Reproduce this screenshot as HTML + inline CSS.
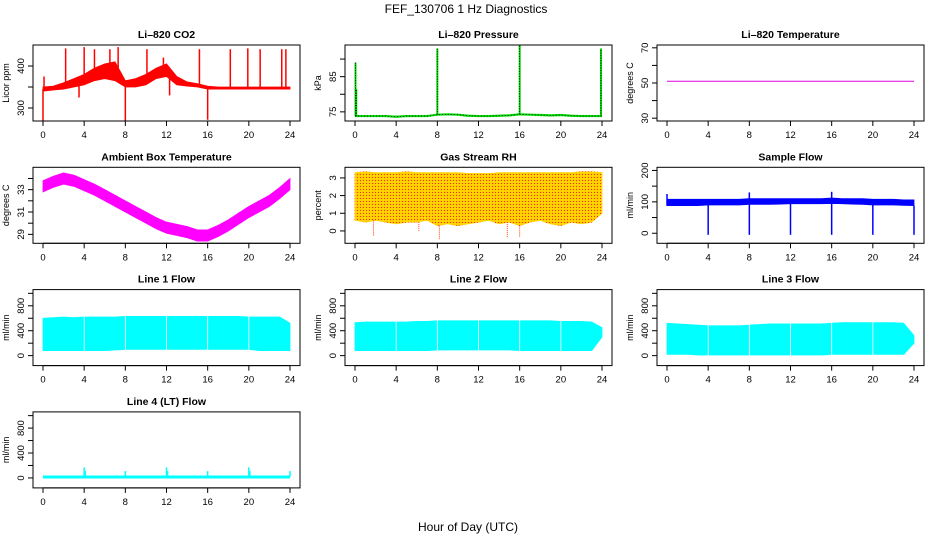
<!DOCTYPE html>
<html><head><meta charset="utf-8">
<style>
body{margin:0;background:#fff;}
svg{display:block;font-family:"Liberation Sans",sans-serif;}
</style></head>
<body>
<svg id="chart" width="936" height="540" viewBox="0 0 936 540">
<rect x="0" y="0" width="936" height="540" fill="#fff"/>
<defs>
<pattern id="rhpat" width="3" height="3" patternUnits="userSpaceOnUse">
<rect width="3" height="3" fill="#ffcc00"/><rect x="0" y="0" width="1" height="1" fill="#ff3000"/><rect x="1.5" y="1.5" width="0.8" height="0.8" fill="#ffff00"/>
</pattern>
</defs>
<text x="466" y="13" font-size="12" text-anchor="middle">FEF_130706  1 Hz Diagnostics</text>
<text x="468" y="531" font-size="12" text-anchor="middle">Hour of Day (UTC)</text>
<g id="panels"></g>
</svg>
<script>
// ---- shared axis data ----
const xTicks = [0,4,8,12,16,20,24];
const hours = [0,1,2,3,4,5,6,7,8,9,10,11,12,13,14,15,16,17,18,19,20,21,22,23,24];

// CO2
const co2Low  = [340,343,345,350,355,365,370,365,350,350,355,370,375,355,352,350,345,345,345,345,345,345,345,345,345];
const co2High = [350,352,360,370,380,395,405,410,365,370,380,395,405,375,362,358,352,350,350,350,350,350,350,350,350];
const co2Spikes = [[2.2,442],[4.0,445],[5.0,440],[6.5,440],[7.3,445],[10.1,440],[11.7,420],[15.2,440],[18.2,440],[19.9,442],[21.1,440],[23.2,440],[23.6,440],[0,270],[8.0,268],[16.0,272],[0.1,375],[3.5,325],[12.3,330]];
const co2Ticks = [300,350,400];
const co2Labels = ["300","","400"];

// Pressure
const presBase = [73.8,73.8,73.8,73.8,73.6,73.8,73.8,73.8,74.2,74.3,74.2,73.9,73.8,73.8,73.9,74.0,74.3,74.2,74.1,74.0,74.1,73.9,73.8,73.8,73.8];
const presSpikes = [[0.05,89],[0.12,81.5],[8.0,93],[16.0,94],[23.9,93]];
const presTicks = [75,80,85,90];
const presLabels = ["75","","85",""];

// Li-820 temperature
const tempVals = [51,51,51,51,51,51,51,51,51,51,51,51,51,51,51,51,51,51,51,51,51,51,51,51,51];
const tempTicks = [30,40,50,60,70];
const tempLabels = ["30","","50","","70"];

// Ambient box temperature
const ambLow  = [32.8,33.2,33.5,33.3,32.9,32.5,32.0,31.5,31.0,30.5,30.0,29.5,29.1,28.9,28.7,28.4,28.4,28.8,29.3,29.9,30.5,31.0,31.5,32.2,33.0];
const ambHigh = [33.8,34.2,34.5,34.3,33.9,33.5,33.0,32.5,32.0,31.5,31.0,30.5,30.1,29.9,29.7,29.4,29.4,29.8,30.3,30.9,31.5,32.0,32.5,33.2,34.0];
const ambTicks = [29,30,31,32,33,34];
const ambLabels = ["29","","31","","33",""];

// Gas stream RH
const rhLow  = [0.6,0.5,0.6,0.5,0.4,0.5,0.5,0.6,0.3,0.4,0.3,0.4,0.5,0.6,0.4,0.5,0.3,0.5,0.6,0.4,0.3,0.5,0.4,0.5,1.0];
const rhHigh = [3.3,3.35,3.3,3.3,3.3,3.35,3.3,3.3,3.3,3.3,3.3,3.25,3.25,3.25,3.3,3.3,3.3,3.3,3.3,3.3,3.3,3.3,3.35,3.35,3.3];
const rhSpikes = [[1.8,-0.3],[6.2,0.0],[8.2,-0.5],[14.8,-0.4],[16.0,-0.35]];
const rhTicks = [0,1,2,3];
const rhLabels = ["0","1","2","3"];

// Sample flow
const sfLow  = [88,88,88,88,90,90,90,90,92,92,92,93,94,94,94,94,95,94,93,92,90,90,90,89,88];
const sfHigh = [108,108,108,108,108,108,108,108,110,110,110,110,110,110,110,110,112,110,110,110,108,108,108,106,106];
const sfSpikes = [[0,125],[8.0,130],[16.0,132],[4.0,-5],[8.0,-5],[12.0,-5],[16.0,-5],[20.0,-5],[24.0,-5]];
const sfTicks = [0,50,100,150,200];
const sfLabels = ["0","","100","","200"];

// Line flows
const flowTicks = [0,200,400,600,800,1000];
const flowLabels = ["0","","400","","800",""];
const flowGaps = [4,8,12,16,20];
const l1Low  = [80,80,80,80,80,80,80,90,100,100,100,100,100,100,100,100,100,100,100,100,100,80,80,80,80];
const l1High = [600,610,620,610,620,620,620,620,630,630,630,630,630,630,630,630,630,630,630,630,620,620,620,620,520];
const l2Low  = [80,80,80,80,80,80,80,80,90,90,90,90,90,90,90,90,80,80,80,80,80,80,80,80,300];
const l2High = [530,540,540,540,540,540,550,550,560,560,560,560,560,560,560,560,560,560,560,560,550,550,550,540,450];
const l3Low  = [20,20,20,10,10,10,10,10,10,10,10,10,10,10,10,10,20,20,20,20,20,20,20,20,200];
const l3High = [520,510,500,490,480,480,480,480,490,500,510,510,510,510,510,510,520,530,530,530,530,530,530,520,320];
const l4Vals = [15,15,15,15,15,15,15,15,15,15,15,15,15,15,15,15,15,15,15,15,15,15,15,15,15];
const l4Spikes = [[4.0,170],[4.1,110],[8.0,110],[12.0,170],[12.1,110],[16.0,110],[20.0,170],[20.1,110],[24.0,110]];

// ---- layout ----
const NS = "http://www.w3.org/2000/svg";
const root = document.getElementById('panels');
function mk(tag, attrs, parent){
  const e = document.createElementNS(NS, tag);
  for (const k in attrs) e.setAttribute(k, attrs[k]);
  (parent||root).appendChild(e);
  return e;
}
function panel(r, c, cfg){
  const L = 33 + c*312, R = L + 267, T = 45 + r*122.3, B = T + 76;
  const g = mk('g', {});
  
  
  const xs = h => (L+10) + h/24*(R-L-20);
  const ys = v => B - (v - cfg.ylim[0])/(cfg.ylim[1]-cfg.ylim[0])*(B-T);
  const marks = mk('g', {}, g);
  
  
  cfg.draw(marks, xs, ys);
  const box = mk('rect', {x:L, y:T, width:R-L, height:B-T, fill:'none', stroke:'#000', 'stroke-width':1}, g);
  
  
  const tt = mk('text', {x:(L+R)/2, y:T-7, 'font-size':10.5, 'font-weight':'bold', 'text-anchor':'middle'}, g);
  tt.textContent = cfg.title;
  
  
  const xa = mk('g', {}, g);
  
  
  mk('line', {x1:xs(0), x2:xs(24), y1:B, y2:B, stroke:'#000'}, xa);
  xTicks.forEach(t => {
    mk('line', {x1:xs(t), x2:xs(t), y1:B, y2:B+5, stroke:'#000'}, xa);
    const tx = mk('text', {x:xs(t), y:B+17, 'font-size':9.5, 'text-anchor':'middle'}, xa);
    tx.textContent = t;
  });
  const ya = mk('g', {}, g);
  
  
  const yt = cfg.ticks;
  mk('line', {x1:L, x2:L, y1:ys(yt[0]), y2:ys(yt[yt.length-1]), stroke:'#000'}, ya);
  yt.forEach((t,i) => {
    mk('line', {x1:L-5, x2:L, y1:ys(t), y2:ys(t), stroke:'#000'}, ya);
    if (cfg.labels[i]) {
      const tx = mk('text', {x:0, y:0, 'font-size':9.5, 'text-anchor':'middle', transform:`translate(${L-9},${ys(t)}) rotate(-90)`}, ya);
      tx.textContent = cfg.labels[i];
    }
  });
  const yl = mk('text', {x:0, y:0, 'font-size':9, 'text-anchor':'middle', transform:`translate(${L-24},${(T+B)/2}) rotate(-90)`}, g);
  yl.textContent = cfg.ylab;
  
  
}
function band(p, xs, ys, lo, hi, fill, gaps){
  gaps = gaps || [];
  const cuts = [0].concat(gaps).concat([24]);
  for (let s=0; s<cuts.length-1; s++){
    const a = cuts[s] + (s>0?0.08:0), b = cuts[s+1] - (s<cuts.length-2?0.08:0);
    const top=[], bot=[];
    const pts = [a].concat(hours.filter(h=>h>a&&h<b)).concat([b]);
    pts.forEach(h=>{
      const i = Math.min(Math.floor(h),23), f = h - i;
      const l = lo[i]*(1-f)+lo[i+1]*f, u = hi[i]*(1-f)+hi[i+1]*f;
      top.push(xs(h)+','+ys(u)); bot.unshift(xs(h)+','+ys(l));
    });
    mk('polygon', {points: top.concat(bot).join(' '), fill: fill, stroke: fill, 'stroke-width':0.8}, p);
  }
}
function line(p, xs, ys, vals, color, w){
  return mk('polyline', {points: hours.map((h,i)=>xs(h)+','+ys(vals[i])).join(' '), fill:'none', stroke:color, 'stroke-width':w||1}, p);
}
function spikes(p, xs, ys, sp, base, color, w, dash){
  sp.forEach(s=>{
    const i = Math.min(Math.round(s[0]),24);
    const e = mk('line', {x1:xs(s[0]), x2:xs(s[0]), y1:ys(base[i]), y2:ys(s[1]), stroke:color, 'stroke-width':w||1.2}, p);
    if (dash) e.setAttribute('stroke-dasharray', dash);
  });
}
const flowCfg = (name,title,lo,hi)=>({name:name, title:title, ylab:'ml/min', ylim:[-160,1060], ticks:flowTicks, labels:flowLabels,
  draw:(p,xs,ys)=>band(p,xs,ys,lo,hi,'#00ffff',flowGaps)});

panel(0,0,{name:'co2', title:'Li\u2013820 CO2', ylab:'Licor ppm', ylim:[269,450], ticks:co2Ticks, labels:co2Labels,
  draw:(p,xs,ys)=>{ band(p,xs,ys,co2Low,co2High,'#ff0000'); const mid=co2Low.map((v,i)=>(v+co2High[i])/2); spikes(p,xs,ys,co2Spikes,mid,'#ff0000',1.5);} });
panel(0,1,{name:'pressure', title:'Li\u2013820 Pressure', ylab:'kPa', ylim:[72.4,94], ticks:presTicks, labels:presLabels,
  draw:(p,xs,ys)=>{ line(p,xs,ys,presBase,'#00dd00',2.2); const d=line(p,xs,ys,presBase,'#000',0.8); d.setAttribute('stroke-dasharray','1 2');
    spikes(p,xs,ys,presSpikes,presBase,'#00dd00',2); spikes(p,xs,ys,presSpikes,presBase,'#000',0.9,'1 1.5'); } });
panel(0,2,{name:'li820-temperature', title:'Li\u2013820 Temperature', ylab:'degrees C', ylim:[28.4,71.6], ticks:tempTicks, labels:tempLabels,
  draw:(p,xs,ys)=>line(p,xs,ys,tempVals,'#e000e0',1) });
panel(1,0,{name:'ambient-temperature', title:'Ambient Box Temperature', ylab:'degrees C', ylim:[28.2,35], ticks:ambTicks, labels:ambLabels,
  draw:(p,xs,ys)=>band(p,xs,ys,ambLow,ambHigh,'#ff00ff') });
panel(1,1,{name:'gas-stream-rh', title:'Gas Stream RH', ylab:'percent', ylim:[-0.7,3.6], ticks:rhTicks, labels:rhLabels,
  draw:(p,xs,ys)=>{ band(p,xs,ys,rhLow,rhHigh,'url(#rhpat)'); spikes(p,xs,ys,rhSpikes,rhLow,'#ff4000',1,'1 1'); } });
panel(1,2,{name:'sample-flow', title:'Sample Flow', ylab:'ml/min', ylim:[-32,210], ticks:sfTicks, labels:sfLabels,
  draw:(p,xs,ys)=>{ band(p,xs,ys,sfLow,sfHigh,'#0000ff'); spikes(p,xs,ys,sfSpikes,sfLow,'#0000ff',1.5);} });
panel(2,0,flowCfg('line1-flow','Line 1 Flow',l1Low,l1High));
panel(2,1,flowCfg('line2-flow','Line 2 Flow',l2Low,l2High));
panel(2,2,flowCfg('line3-flow','Line 3 Flow',l3Low,l3High));
panel(3,0,{name:'line4-flow', title:'Line 4 (LT) Flow', ylab:'ml/min', ylim:[-160,1060], ticks:flowTicks, labels:flowLabels,
  draw:(p,xs,ys)=>{ line(p,xs,ys,l4Vals,'#00ffff',3); spikes(p,xs,ys,l4Spikes,l4Vals,'#00ffff',1.5);} });
</script>
</body></html>
